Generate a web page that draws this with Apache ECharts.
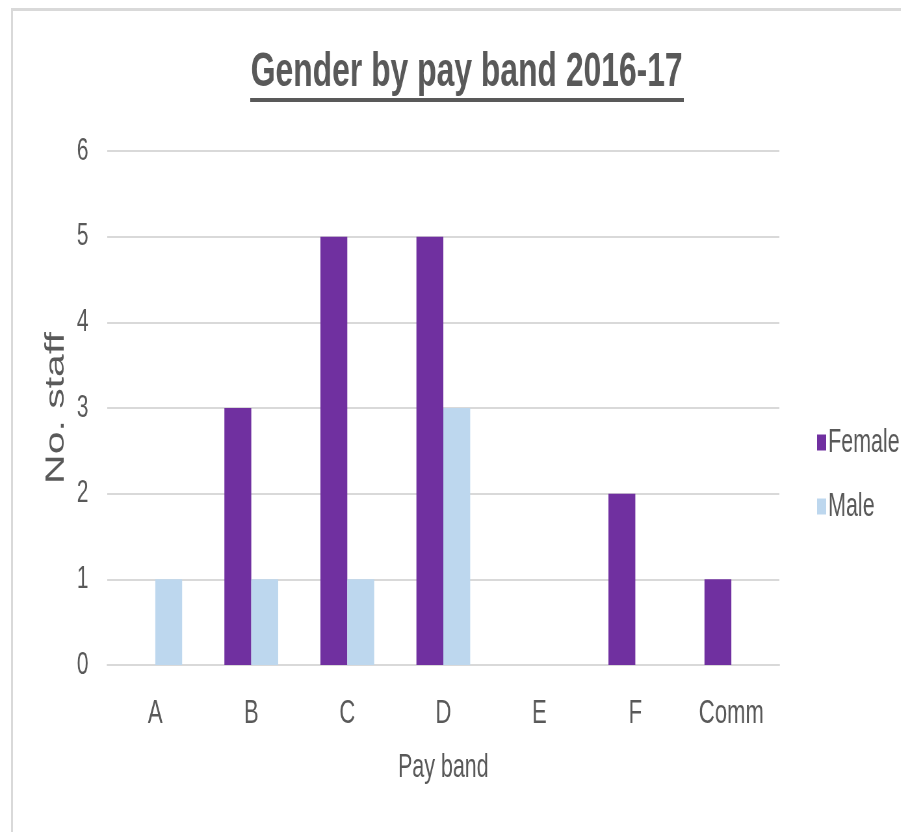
<!DOCTYPE html>
<html>
<head>
<meta charset="utf-8">
<script src="https://cdn.jsdelivr.net/npm/echarts@6/dist/echarts.min.js"></script>
<style>
  html, body { margin: 0; padding: 0; background: #ffffff; overflow: hidden; }
  #frame {
    position: absolute; left: 11px; top: 8px; width: 900px; height: 830px;
    border-top: 3px solid #d9d9d9; border-left: 2px solid #d9d9d9;
  }
  /* the chart is laid out wide, then narrowed to give the condensed lettering */
  #chart {
    position: absolute; left: 0; top: 0; width: 1386px; height: 832px;
    transform: scaleX(0.65); transform-origin: 0 0;
  }
</style>
</head>
<body>
<div id="frame"></div>
<div id="chart"></div>
<script>
const categories = ['A', 'B', 'C', 'D', 'E', 'F', 'Comm'];
const femaleValues = [0, 3, 5, 5, 0, 2, 1];
const maleValues = [1, 1, 1, 3, 0, 0, 0];
const seriesNames = ['Female', 'Male'];
const yTicks = { min: 0, max: 6, interval: 1 };

const textColor = '#595959';
const gridColor = '#d9d9d9';

const chart = echarts.init(document.getElementById('chart'), null, { renderer: 'canvas' });

chart.setOption({
  animation: false,
  backgroundColor: 'transparent',
  textStyle: { fontFamily: 'Liberation Sans, Arial, sans-serif' },
  title: {
    text: 'Gender by pay band 2016-17',
    left: 718,
    top: 48,
    textAlign: 'center',
    padding: 0,
    textStyle: { fontSize: 49, fontWeight: 'bold', color: textColor, fontFamily: 'Liberation Sans, Arial, sans-serif' }
  },
  graphic: [{
    type: 'rect',
    shape: { x: 385, y: 98, width: 667, height: 4 },
    style: { fill: textColor }
  }],
  legend: {
    orient: 'vertical',
    left: 1252,
    top: 421,
    itemWidth: 14,
    itemHeight: 16,
    itemGap: 31,
    icon: 'rect',
    textStyle: { fontSize: 33, color: textColor, padding: [0, 0, 0, -2] },
    data: seriesNames
  },
  grid: { left: 165, right: 187, top: 151, bottom: 167, containLabel: false },
  xAxis: {
    type: 'category',
    data: categories,
    name: 'Pay band',
    nameLocation: 'middle',
    nameGap: 86,
    nameTextStyle: { fontSize: 33, color: textColor },
    axisLine: { show: true, lineStyle: { color: gridColor, width: 2 } },
    axisTick: { show: false },
    axisLabel: { fontSize: 34, color: textColor, margin: 32 }
  },
  yAxis: {
    type: 'value',
    min: yTicks.min,
    max: yTicks.max,
    interval: yTicks.interval,
    name: 'No. staff',
    nameLocation: 'middle',
    nameRotate: 90,
    nameGap: 58,
    nameTextStyle: { fontSize: 41, color: textColor },
    axisLine: { show: false },
    axisTick: { show: false },
    axisLabel: { fontSize: 32, color: textColor, margin: 29 },
    splitLine: { lineStyle: { color: gridColor, width: 2 } }
  },
  series: [
    {
      name: seriesNames[0],
      type: 'bar',
      data: femaleValues,
      itemStyle: { color: '#7030a0' },
      barGap: '0%',
      barCategoryGap: '44%'
    },
    {
      name: seriesNames[1],
      type: 'bar',
      data: maleValues,
      itemStyle: { color: '#bdd7ee' },
      barGap: '0%',
      barCategoryGap: '44%'
    }
  ]
});
</script>
</body>
</html>
